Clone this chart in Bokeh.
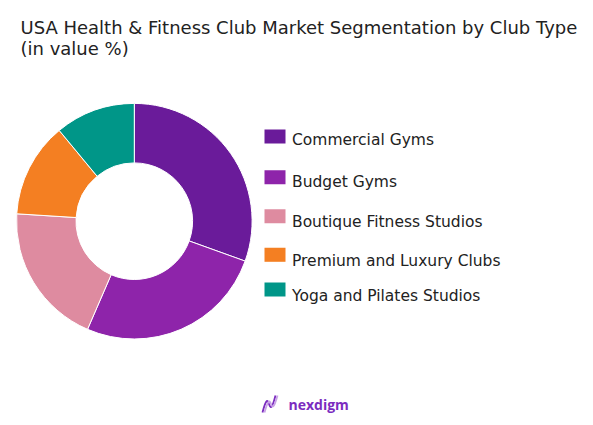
import math
from bokeh.plotting import figure
from bokeh.models import Range1d, ColumnDataSource
from bokeh.core.properties import value
from bokeh.embed import file_html
from bokeh.resources import INLINE

# ---- data ----
categories = ["Commercial Gyms", "Budget Gyms", "Boutique Fitness Studios",
              "Premium and Luxury Clubs", "Yoga and Pilates Studios"]
shares = [30.5, 26.0, 19.5, 13.0, 11.0]
colors = ["#6A1B9A", "#8E24AA", "#DE8BA0", "#F47F22", "#009688"]
title_lines = ["USA Health & Fitness Club Market Segmentation by Club Type", "(in value %)"]

# ---- layout (figure pixels, y up) ----
W, H = 577, 417
def Y(page_y):
    return H - page_y
def X(page_x):
    return page_x

FONT = "DejaVu Sans"

p = figure(width=W, height=H, output_backend="svg", toolbar_location=None,
           x_range=Range1d(0, W), y_range=Range1d(0, H), min_border=0)
p.axis.visible = False
p.grid.visible = False
p.outline_line_color = None
p.background_fill_color = "white"
p.border_fill_color = "white"

# donut
total = sum(shares)
starts, ends = [], []
acc = 0.0
for s in shares:
    a0 = math.pi / 2 - 2 * math.pi * acc / total
    acc += s
    a1 = math.pi / 2 - 2 * math.pi * acc / total
    starts.append(a0)
    ends.append(a1)
src = ColumnDataSource(dict(cat=categories, share=shares, color=colors, start=starts, end=ends))
p.annular_wedge(x=X(133.8), y=Y(220.7), inner_radius=58.3, outer_radius=117.8,
                start_angle="start", end_angle="end", direction="clock",
                fill_color="color", line_color="white", line_width=1, source=src)

# legend
box_y = [136, 176.7, 215.7, 254.3, 289]
text_y = [139.5, 181.8, 221, 260.7, 295]
lsrc = ColumnDataSource(dict(cat=categories, color=colors,
                             by=[Y(v) for v in box_y], ty=[Y(v) for v in text_y]))
p.rect(x=X(274.5), y="by", width=21, height=14, fill_color="color", line_color=None, source=lsrc)
p.text(x=X(291.5), y="ty", text="cat", source=lsrc, text_font=value(FONT),
       text_font_size="15.5px", text_color="#222222", text_baseline="alphabetic")

# title
p.text(x=[X(20), X(20)], y=[Y(26.7), Y(48.3)], text=title_lines, text_font=value(FONT),
       text_font_size="18px", text_color="#222222", text_baseline="alphabetic")

# logo
p.bezier(x0=[X(262), X(264)], y0=[Y(412), Y(412)], x1=[X(275), X(277)], y1=[Y(395), Y(395)],
         cx0=[X(270), X(272)], cy0=[Y(381), Y(383)], cx1=[X(267), X(269)], cy1=[Y(426), Y(424)],
         line_color=["#7B2CBF", "#C9A3E6"], line_width=1.8)
p.text(x=[X(288)], y=[Y(404)], text=["nexdigm"], text_font=value("Open Sans"),
       text_font_size="14px", text_font_style="bold", text_color="#7B2CBF", text_baseline="middle")

open("out.html", "w").write(file_html(p, INLINE))
